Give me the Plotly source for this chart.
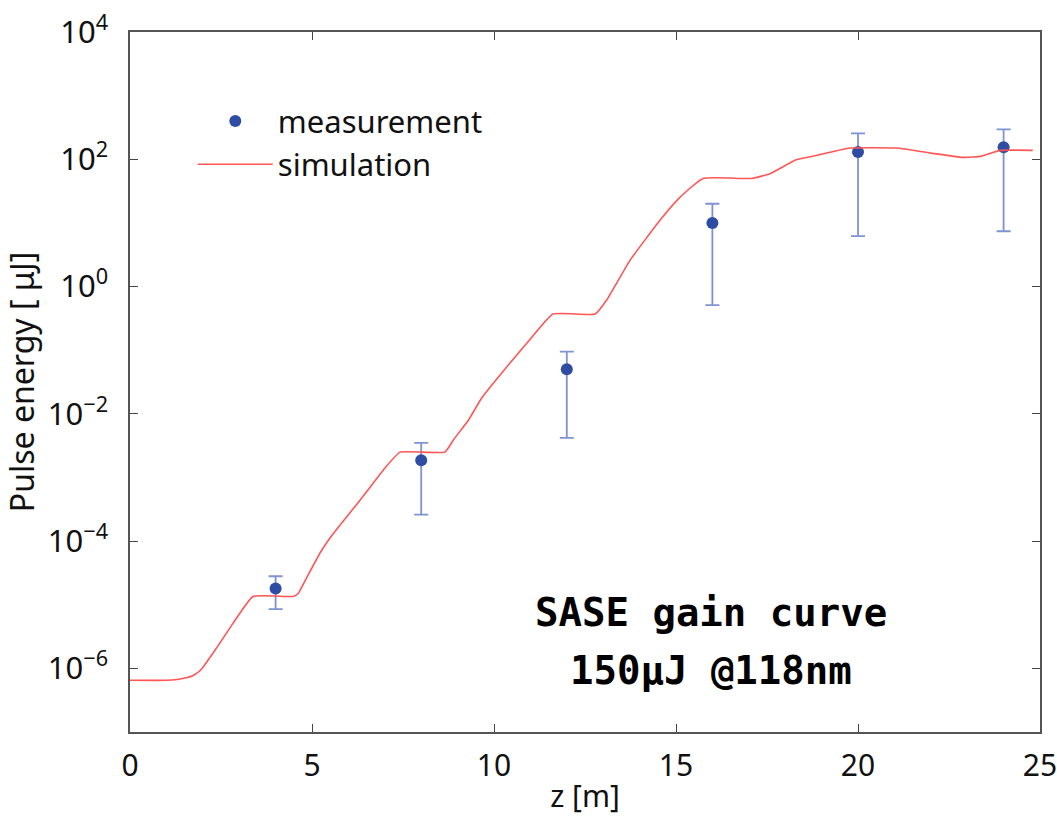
import plotly.graph_objects as go

# measurement data
meas_z = [4, 8, 12, 16, 20, 24]
meas_e = [1.8e-5, 1.86e-3, 0.05, 10, 130, 155]
meas_hi = [2.8e-5, 3.5e-3, 0.095, 20, 255, 295]
meas_lo = [8.5e-6, 2.6e-4, 4.2e-3, 0.51, 6.2, 7.4]

# simulation curve
sim_z = [0, 1.0, 1.3, 1.55, 1.75, 1.95, 2.38, 2.83, 3.38, 4.48, 4.62, 4.86, 5.22, 5.58, 6.32, 7.0, 7.42,
         8.65, 8.9, 9.3, 9.67, 10.44, 11.0, 11.62, 12.78, 13.1, 13.74, 14.56, 15.1, 15.74,
         17.09, 17.6, 18.3, 19.0, 19.78, 21.07, 22.0, 22.88, 23.4, 23.9, 24.8]
sim_e = [6.5e-7, 6.5e-7, 6.7e-7, 7.1e-7, 7.8e-7, 9.5e-7, 2.1e-6, 5.1e-6, 1.35e-5, 1.35e-5, 1.5e-5,
         2.7e-5, 6.5e-5, 1.3e-4, 4.4e-4, 1.4e-3, 2.5e-3,
         2.5e-3, 4.0e-3, 8.0e-3, 1.8e-2, 6.3e-2, 0.15, 0.37, 0.37, 0.62, 2.6, 11, 25, 50,
         50, 60, 98, 120, 150, 150, 125, 107, 112, 138, 138]

tick_vals = [1e-6, 1e-4, 1e-2, 1, 1e2, 1e4]
tick_text = ["10<sup>−6</sup>", "10<sup>−4</sup>", "10<sup>−2</sup>", "10<sup>0</sup>",
             "10<sup>2</sup>", "10<sup>4</sup>"]
x_ticks = [0, 5, 10, 15, 20, 25]

note_lines = ["SASE gain curve", "150μJ @118nm"]
note_z = [15.96, 15.96]
note_logy = [-5.12, -6.03]

FONT = "Noto Sans"

fig = go.Figure()
fig.add_trace(go.Scatter(
    x=meas_z, y=meas_e, mode="markers", name="measurement",
    marker=dict(color="#2f4ca3", size=12),
    error_y=dict(type="data", symmetric=False,
                 array=[h - e for h, e in zip(meas_hi, meas_e)],
                 arrayminus=[e - l for e, l in zip(meas_e, meas_lo)],
                 color="#7f93d3", thickness=1.8, width=7),
))
fig.add_trace(go.Scatter(
    x=sim_z, y=sim_e, mode="lines", name="simulation",
    line=dict(color="#ff5555", width=1.6, shape="spline", smoothing=0.4),
))

for txt, zx, ly in zip(note_lines, note_z, note_logy):
    fig.add_annotation(x=zx, y=ly, xref="x", yref="y", text="<b>" + txt + "</b>",
                       showarrow=False,
                       font=dict(family="DejaVu Sans Mono", size=39, color="black"),
                       align="center")

fig.update_layout(
    width=1057, height=816,
    margin=dict(l=130, r=17, t=32, b=84),
    paper_bgcolor="white", plot_bgcolor="white",
    font=dict(family=FONT, size=31, color="#111111"),
    legend=dict(x=0.069, y=0.911, xanchor="left", yanchor="top",
                bgcolor="rgba(0,0,0,0)", font=dict(size=31, family=FONT),
                itemwidth=75, tracegroupgap=0),
    xaxis=dict(range=[0, 25], tickvals=x_ticks, ticks="inside", ticklen=8,
               showline=True, mirror="ticks", linecolor="#555555", linewidth=1.5,
               showgrid=False, zeroline=False, automargin=False,
               ticklabelstandoff=6, ticklabeloverflow="allow",
               title=dict(text="z [m]", font=dict(size=30, family=FONT), standoff=10),
               tickfont=dict(size=30, family=FONT)),
    yaxis=dict(type="log", range=[-7, 4], tickvals=tick_vals, ticktext=tick_text,
               ticks="inside", ticklen=8,
               showline=True, mirror="ticks", linecolor="#555555", linewidth=1.5,
               showgrid=False, zeroline=False, automargin=False,
               ticklabelstandoff=14, ticklabeloverflow="allow",
               title=dict(text="Pulse energy [ μJ]", font=dict(size=32, family=FONT), standoff=10),
               tickfont=dict(size=31, family=FONT)),
)

fig.write_html("out.html")
